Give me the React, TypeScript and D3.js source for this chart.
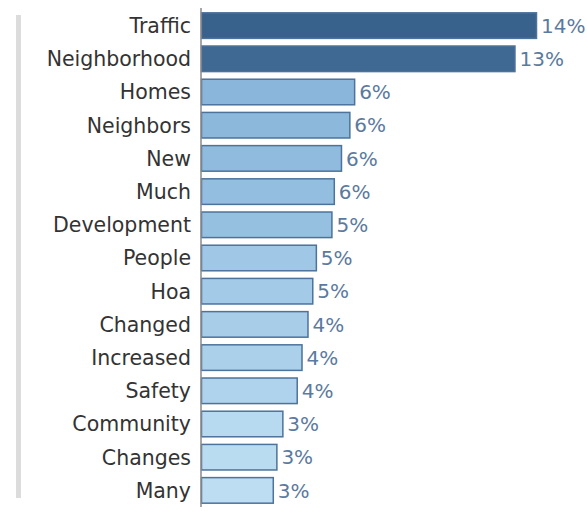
import React from "react";
import * as d3 from "d3";

const categories = ["Traffic","Neighborhood","Homes","Neighbors","New","Much","Development","People","Hoa","Changed","Increased","Safety","Community","Changes","Many"];
const values = [0.140,0.131,0.064,0.062,0.0585,0.0555,0.0545,0.048,0.0465,0.0445,0.042,0.040,0.034,0.0315,0.030];
const colors = ["#38618b","#3f6992","#89b6da","#8cb8dc","#90bbde","#93bedf","#96c0e0","#a0c8e6","#a3cae7","#a8cde9","#abd0ea","#afd3ec","#b7daf0","#badcf1","#bddef2"];

export default function App() {
  const W = 587, H = 511;
  const x0 = 201;
  const x = d3.scaleLinear().domain([0, 0.14]).range([0, 335]);
  const y = d3.scaleBand().domain(categories).range([9, 507]).paddingInner(0.2).paddingOuter(0.1);
  const fmt = d3.format(".0%");
  const font = "'DejaVu Sans', sans-serif";
  return (
    <svg width={W} height={H} style={{ position: "absolute", left: 0, top: 0 }}>
      <rect x={16} y={15} width={5} height={483} fill="#dcdcdc" />
      {categories.map((c, i) => {
        const yy = y(c)!;
        const bw = x(values[i]);
        return (
          <g key={c}>
            <rect x={x0 + 0.5} y={yy + 0.5} width={bw} height={y.bandwidth() - 1} fill={colors[i]} stroke="#4d729b" strokeWidth={1.5} />
            <text x={191} y={yy + y.bandwidth() / 2} dy="0.36em" textAnchor="end" fontFamily={font} fontSize={20.5} fill="#333">{c}</text>
            <text x={x0 + bw + 5} y={yy + y.bandwidth() / 2} dy="0.36em" fontFamily={font} fontSize={20} fill="#5b7a9e">{fmt(values[i])}</text>
          </g>
        );
      })}
      <line x1={x0} x2={x0} y1={8} y2={507} stroke="#8a8a8a" strokeWidth={1.5} />
    </svg>
  );
}
